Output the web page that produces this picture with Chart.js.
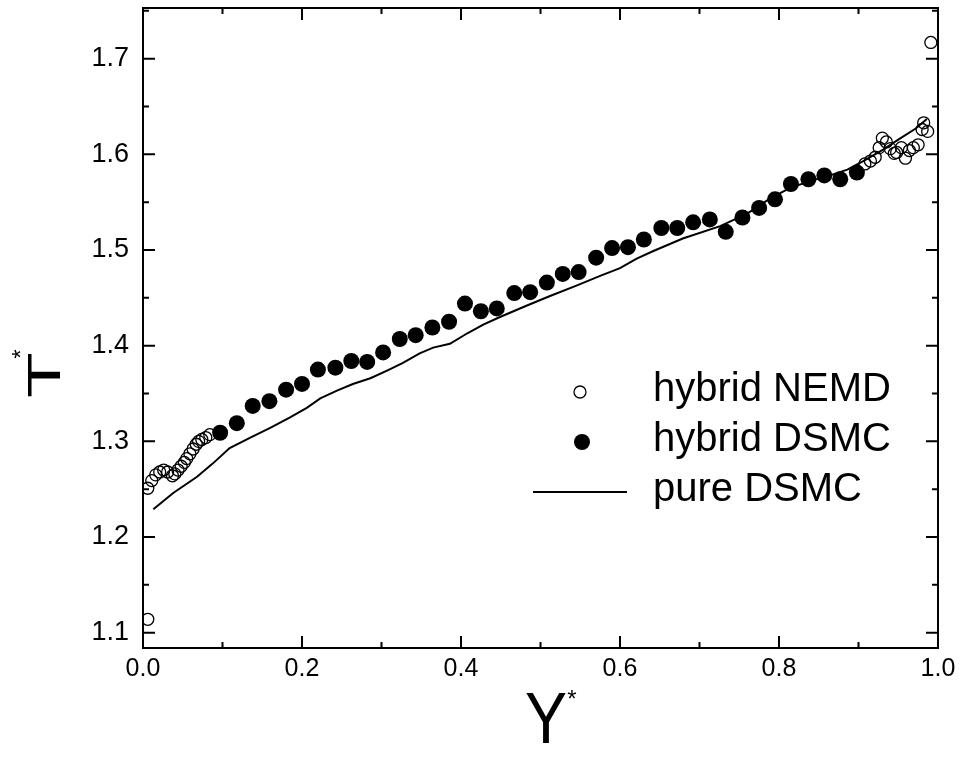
<!DOCTYPE html>
<html>
<head>
<meta charset="utf-8">
<script src="https://cdn.jsdelivr.net/npm/chart.js@4.4.0/dist/chart.umd.min.js"></script>
<style>
  html, body { margin: 0; padding: 0; background: #fff; }
</style>
</head>
<body>
<canvas id="tempChart" width="960" height="762"></canvas>
<script>
// hybrid NEMD (open circles)
const nemdX = [0.006, 0.011, 0.016, 0.021, 0.026, 0.031, 0.037, 0.040, 0.044, 0.048, 0.052, 0.055, 0.059, 0.063, 0.067, 0.070, 0.074, 0.079, 0.084,
               0.908, 0.915, 0.921, 0.926, 0.930, 0.935, 0.940, 0.945, 0.948, 0.954, 0.959, 0.964, 0.969, 0.975, 0.980, 0.982, 0.987,
               0.006, 0.991];
const nemdY = [1.251, 1.259, 1.265, 1.268, 1.270, 1.268, 1.264, 1.266, 1.270, 1.274, 1.278, 1.282, 1.287, 1.292, 1.297, 1.300, 1.302, 1.304, 1.307,
               1.590, 1.593, 1.597, 1.607, 1.617, 1.613, 1.606, 1.601, 1.602, 1.607, 1.596, 1.604, 1.607, 1.610, 1.626, 1.633, 1.624,
               1.114, 1.717];

// hybrid DSMC (filled circles)
const dsmcX = [0.097, 0.118, 0.138, 0.159, 0.180, 0.200, 0.220, 0.242, 0.262, 0.282,
               0.302, 0.323, 0.343, 0.364, 0.385, 0.405, 0.425, 0.445, 0.467, 0.487,
               0.508, 0.528, 0.548, 0.570, 0.590, 0.610, 0.630, 0.652, 0.672, 0.692,
               0.713, 0.733, 0.754, 0.775, 0.795, 0.815, 0.837, 0.857, 0.877, 0.898];
const dsmcY = [1.309, 1.319, 1.337, 1.342, 1.354, 1.360, 1.375, 1.377, 1.384, 1.383,
               1.393, 1.407, 1.411, 1.419, 1.425, 1.444, 1.436, 1.439, 1.455, 1.456,
               1.466, 1.475, 1.477, 1.492, 1.502, 1.503, 1.511, 1.523, 1.523, 1.529,
               1.532, 1.519, 1.534, 1.544, 1.553, 1.569, 1.574, 1.578, 1.574, 1.581];

// pure DSMC (line)
const pureX = [0.013, 0.038, 0.068, 0.088, 0.109, 0.135, 0.160, 0.185, 0.206, 0.223,
               0.244, 0.264, 0.286, 0.307, 0.327, 0.348, 0.365, 0.386, 0.408, 0.428,
               0.449, 0.483, 0.512, 0.546, 0.575, 0.600, 0.621, 0.642, 0.679, 0.726,
               0.760, 0.789, 0.814, 0.839, 0.864, 0.886, 0.906, 0.931, 0.951, 0.972, 0.986];
const pureY = [1.229, 1.246, 1.263, 1.277, 1.293, 1.304, 1.314, 1.325, 1.335, 1.345,
               1.353, 1.360, 1.366, 1.374, 1.382, 1.392, 1.398, 1.402, 1.413, 1.422,
               1.430, 1.442, 1.452, 1.463, 1.473, 1.481, 1.491, 1.499, 1.512, 1.525,
               1.538, 1.554, 1.565, 1.572, 1.578, 1.584, 1.593, 1.605, 1.616, 1.627, 1.637];

const xTicks = [0.0, 0.2, 0.4, 0.6, 0.8, 1.0];
const xMinor = [0.1, 0.3, 0.5, 0.7, 0.9];
const yTicks = [1.1, 1.2, 1.3, 1.4, 1.5, 1.6, 1.7];
const yMinor = [1.15, 1.25, 1.35, 1.45, 1.55, 1.65, 1.75];

const toPoints = (xs, ys) => xs.map((x, i) => ({ x: x, y: ys[i] }));

const fontFam = "'Liberation Sans', Arial, sans-serif";

// frame, inward ticks, axis titles and legend
const decor = {
    id: 'decor',
    afterDraw(chart) {
        const ctx = chart.ctx;
        const a = chart.chartArea;
        const xs = chart.scales.x, ys = chart.scales.y;
        ctx.save();
        ctx.strokeStyle = '#000';
        ctx.lineWidth = 2;
        ctx.strokeRect(a.left, a.top, a.right - a.left, a.bottom - a.top);

        ctx.beginPath();
        xTicks.concat(xMinor).forEach(v => {
            const len = xTicks.includes(v) ? 12 : 6;
            const px = xs.getPixelForValue(v);
            ctx.moveTo(px, a.bottom); ctx.lineTo(px, a.bottom - len);
            ctx.moveTo(px, a.top); ctx.lineTo(px, a.top + len);
        });
        yTicks.concat(yMinor).forEach(v => {
            const len = yTicks.includes(v) ? 12 : 6;
            const py = ys.getPixelForValue(v);
            if (py < a.top || py > a.bottom) return;
            ctx.moveTo(a.left, py); ctx.lineTo(a.left + len, py);
            ctx.moveTo(a.right, py); ctx.lineTo(a.right - len, py);
        });
        ctx.stroke();

        // axis titles
        ctx.fillStyle = '#000';
        ctx.textAlign = 'center';
        ctx.textBaseline = 'middle';
        ctx.save();
        ctx.translate(546, 723);
        ctx.scale(1, 1.15);
        ctx.font = '63px ' + fontFam;
        ctx.fillText('Y', 0, 0);
        ctx.restore();
        ctx.font = '24px ' + fontFam;
        ctx.fillText('*', 572, 700);

        ctx.save();
        ctx.translate(47, 375);
        ctx.rotate(-Math.PI / 2);
        ctx.scale(1, 0.62);
        ctx.font = '75px ' + fontFam;
        ctx.fillText('T', 0, 0);
        ctx.restore();
        ctx.save();
        ctx.translate(22, 354);
        ctx.rotate(-Math.PI / 2);
        ctx.font = '24px ' + fontFam;
        ctx.fillText('*', 0, 0);
        ctx.restore();

        // legend
        ctx.font = '40px ' + fontFam;
        ctx.textAlign = 'left';
        ctx.textBaseline = 'alphabetic';
        ctx.lineWidth = 1.3;
        ctx.beginPath();
        ctx.arc(580, 392, 6, 0, Math.PI * 2);
        ctx.stroke();
        ctx.fillText('hybrid NEMD', 653, 401);

        ctx.beginPath();
        ctx.arc(582, 442, 8, 0, Math.PI * 2);
        ctx.fill();
        ctx.fillText('hybrid DSMC', 653, 451);

        ctx.lineWidth = 2;
        ctx.beginPath();
        ctx.moveTo(533, 492); ctx.lineTo(627, 492);
        ctx.stroke();
        ctx.fillText('pure DSMC', 653, 501);
        ctx.restore();
    }
};

const ctx = document.getElementById('tempChart');

new Chart(ctx, {
    type: 'scatter',
    data: {
        datasets: [{
            label: 'pure DSMC',
            data: toPoints(pureX, pureY),
            showLine: true,
            borderColor: '#000',
            borderWidth: 2,
            pointRadius: 0,
            tension: 0
        }, {
            label: 'hybrid DSMC',
            data: toPoints(dsmcX, dsmcY),
            backgroundColor: '#000',
            borderColor: '#000',
            borderWidth: 0,
            pointRadius: 8
        }, {
            label: 'hybrid NEMD',
            data: toPoints(nemdX, nemdY),
            backgroundColor: 'rgba(255,255,255,0)',
            borderColor: '#000',
            borderWidth: 1.3,
            pointRadius: 6
        }]
    },
    options: {
        responsive: false,
        animation: false,
        layout: { padding: { top: 6, right: 22, left: 0, bottom: 0 } },
        plugins: {
            legend: { display: false },
            tooltip: { enabled: false }
        },
        scales: {
            x: {
                type: 'linear',
                min: 0,
                max: 1,
                grid: { display: false, drawTicks: false },
                border: { display: false },
                afterBuildTicks: s => { s.ticks = xTicks.map(v => ({ value: v })); },
                afterFit: s => { s.height = 114; s.paddingLeft = 0; s.paddingRight = 0; },
                ticks: {
                    padding: 6,
                    color: '#000',
                    font: { family: fontFam, size: 25 },
                    callback: v => v.toFixed(1)
                }
            },
            y: {
                type: 'linear',
                min: 1.084,
                max: 1.753,
                grid: { display: false, drawTicks: false },
                border: { display: false },
                afterBuildTicks: s => { s.ticks = yTicks.map(v => ({ value: v })); },
                afterFit: s => { s.width = 143; s.paddingTop = 0; s.paddingBottom = 0; },
                ticks: {
                    padding: 14,
                    color: '#000',
                    font: { family: fontFam, size: 27 },
                    callback: v => v.toFixed(1)
                }
            }
        }
    },
    plugins: [decor]
});
</script>
</body>
</html>
